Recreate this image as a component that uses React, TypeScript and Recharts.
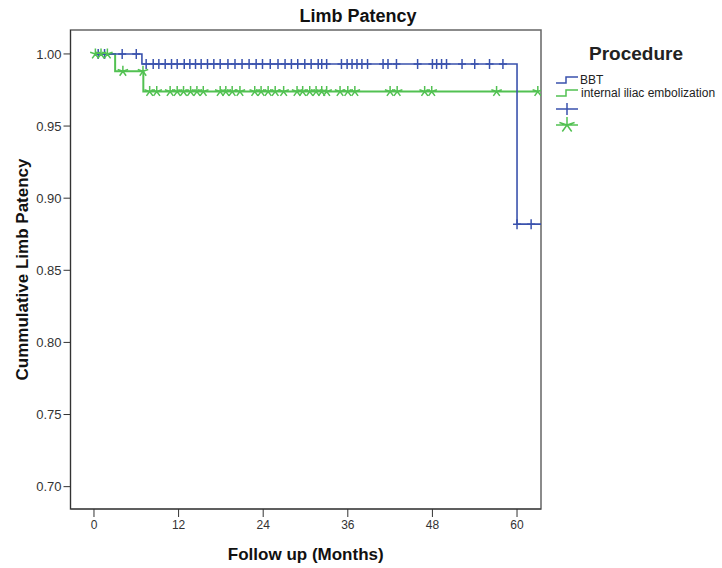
import React from "react";
import {
  ComposedChart,
  Line,
  Scatter,
  XAxis,
  YAxis,
  ReferenceArea,
  Legend,
} from "recharts";

// ---- Data ----
const xTicks = [0, 12, 24, 36, 48, 60];
const yTicks = [0.7, 0.75, 0.8, 0.85, 0.9, 0.95, 1.0];

// BBT survival step function
const bbtTimes = [0, 6.8, 60, 63.4];
const bbtSurv = [1.0, 0.993, 0.882, 0.882];
// Internal iliac embolization step function
const iieTimes = [0, 3, 7, 62.95];
const iieSurv = [1.0, 0.988, 0.974, 0.974];

// Censored observations (months)
const bbtCensored = [
  0.6, 1.5, 4.0, 6.0, 7.4, 8.4, 9.2, 10.1, 11.0, 11.8, 12.8, 13.6, 14.4, 15.2,
  16.1, 17.0, 17.9, 19.0, 20.0, 21.0, 22.0, 23.0, 23.9, 25.0, 26.1, 27.1, 28.0,
  28.9, 29.9, 30.8, 31.8, 32.3, 33.0, 35.1, 35.9, 36.6, 37.3, 38.0, 38.8, 41.0,
  41.7, 42.9, 45.9, 48.0, 48.6, 49.3, 50.0, 52.2, 54.0, 56.1, 58.0, 60.0, 62.0,
];
const iieCensored = [
  0.2, 1.0, 1.9, 4.1, 6.95, 7.9, 8.9, 10.8, 11.8, 12.7, 13.7, 14.6, 15.5, 17.9,
  18.7, 19.6, 20.7, 22.8, 23.7, 24.7, 25.7, 26.9, 28.8, 29.6, 30.6, 31.5, 32.3,
  33.0, 34.9, 36.0, 37.0, 42.0, 43.0, 46.9, 47.9, 57.1, 62.95,
];

const BLUE = "#3a52ad";
const GREEN = "#52c152";
const FONT = "'Liberation Sans', Arial, sans-serif";

function stepValue(times: number[], vals: number[], t: number) {
  let v = vals[0];
  for (let i = 0; i < times.length; i++) if (t >= times[i]) v = vals[i];
  return v;
}

const bbtLine = bbtTimes.map((t, i) => ({ t, s: bbtSurv[i] }));
const iieLine = iieTimes.map((t, i) => ({ t, s: iieSurv[i] }));
const bbtCens = bbtCensored.map((t) => ({ t, s: stepValue(bbtTimes, bbtSurv, t) }));
const iieCens = iieCensored.map((t) => ({ t, s: stepValue(iieTimes, iieSurv, t) }));

const PlusShape = (p: any) => {
  const { cx, cy } = p;
  if (cx == null || cy == null) return null;
  return (
    <path
      d={`M${cx - 4},${cy}h8M${cx},${cy - 5}v10`}
      stroke={BLUE}
      strokeWidth={1.5}
      fill="none"
    />
  );
};

function starPath(cx: number, cy: number, r: number) {
  let d = "";
  for (let k = 0; k < 5; k++) {
    const a = ((-90 + k * 72) * Math.PI) / 180;
    d += `M${cx},${cy}L${cx + r * Math.cos(a)},${cy + r * Math.sin(a)}`;
  }
  return d;
}

const StarShape = (p: any) => {
  const { cx, cy } = p;
  if (cx == null || cy == null) return null;
  return <path d={starPath(cx, cy, 5.5)} stroke={GREEN} strokeWidth={1.5} fill="none" />;
};

const LegendContent = () => (
  <svg width={172} height={110} style={{ display: "block", overflow: "visible" }}>
    <text
      x={86}
      y={15}
      textAnchor="middle"
      dominantBaseline="central"
      fontFamily={FONT}
      fontWeight="bold"
      fontSize={19}
      fill="#222"
    >
      Procedure
    </text>
    <path d="M6,45H16V39H28" stroke={BLUE} strokeWidth={1.5} fill="none" />
    <text x={30} y={42} dominantBaseline="central" fontFamily={FONT} fontSize={12} fill="#222">
      BBT
    </text>
    <path d="M6,58H16V52H28" stroke={GREEN} strokeWidth={1.5} fill="none" />
    <text x={31} y={55} dominantBaseline="central" fontFamily={FONT} fontSize={12} fill="#222">
      internal iliac embolization
    </text>
    <path d="M6,71H28M17,65V77" stroke={BLUE} strokeWidth={1.5} fill="none" />
    <path d={"M6,87H28" + starPath(17, 87, 8)} stroke={GREEN} strokeWidth={1.5} fill="none" />
  </svg>
);

export default function App() {
  return (
    <div style={{ position: "absolute", left: 0, top: 0, width: 722, height: 568, background: "#fff" }}>
      <div
        style={{
          position: "absolute",
          left: 0,
          width: 716,
          top: 6,
          textAlign: "center",
          fontFamily: FONT,
          fontWeight: "bold",
          fontSize: 18,
          color: "#111",
          zIndex: 2,
        }}
      >
        Limb Patency
      </div>
      <ComposedChart
        width={722}
        height={568}
        margin={{ top: 30, right: 181, bottom: 0, left: 10.5 }}
      >
        <ReferenceArea
          x1={-3.33}
          x2={63.4}
          y1={0.6845}
          y2={1.0166}
          fill="none"
          stroke="#666"
          strokeWidth={1.5}
          ifOverflow="visible"
        />
        <XAxis
          dataKey="t"
          type="number"
          domain={[-3.33, 63.4]}
          ticks={xTicks}
          allowDataOverflow
          height={59}
          tickSize={8}
          tickMargin={3}
          axisLine={{ stroke: "#333" }}
          tickLine={{ stroke: "#333" }}
          tick={{ fontFamily: FONT, fontSize: 12, fill: "#333" }}
          label={{
            value: "Follow up (Months)",
            position: "insideBottom",
            offset: 8,
            style: { fontFamily: FONT, fontWeight: "bold", fontSize: 17, fill: "#111" },
          }}
        />
        <YAxis
          dataKey="s"
          type="number"
          domain={[0.6845, 1.0166]}
          ticks={yTicks}
          allowDataOverflow
          width={60}
          tickSize={7}
          tickMargin={2}
          tickFormatter={(v: number) => v.toFixed(2)}
          axisLine={{ stroke: "#333" }}
          tickLine={{ stroke: "#333" }}
          tick={{ fontFamily: FONT, fontSize: 13, fill: "#333" }}
          label={{
            value: "Cummulative Limb Patency",
            angle: -90,
            position: "insideLeft",
            offset: 11,
            style: { fontFamily: FONT, fontWeight: "bold", fontSize: 17, fill: "#111", textAnchor: "middle" },
          }}
        />
        <Line
          data={iieLine}
          dataKey="s"
          type="stepAfter"
          stroke={GREEN}
          strokeWidth={2}
          dot={false}
          isAnimationActive={false}
          name="internal iliac embolization"
        />
        <Line
          data={bbtLine}
          dataKey="s"
          type="stepAfter"
          stroke={BLUE}
          strokeWidth={1.6}
          dot={false}
          isAnimationActive={false}
          name="BBT"
        />
        <Scatter data={bbtCens} dataKey="s" shape={PlusShape} isAnimationActive={false} />
        <Scatter data={iieCens} dataKey="s" shape={StarShape} isAnimationActive={false} />
        <Legend
          layout="horizontal"
          verticalAlign="middle"
          align="center"
          content={LegendContent}
          wrapperStyle={{ position: "absolute", left: 550, top: 38, width: 172, height: 110 }}
        />
      </ComposedChart>
    </div>
  );
}
